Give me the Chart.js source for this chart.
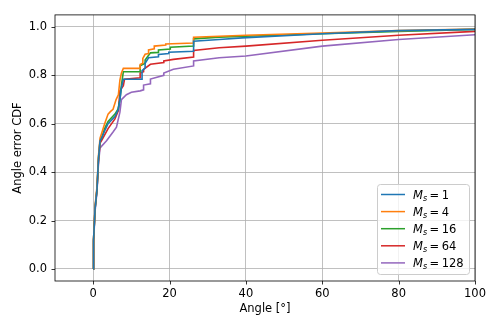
<!DOCTYPE html>
<html>
<head>
<meta charset="utf-8">
<script src="https://cdn.jsdelivr.net/npm/chart.js@4"></script>
<style>
  html, body { margin: 0; padding: 0; background: #fff; }
</style>
</head>
<body>
<canvas id="cdf-chart" width="498" height="332"></canvas>
<script>
// angle error CDF per number of samples M_s
const seriesNames = ['1', '4', '16', '64', '128'];
const seriesColors = ['#1f77b4', '#ff7f0e', '#2ca02c', '#d62728', '#9467bd'];

const ms1X = [0, 0.1, 0.5, 1.0, 1.4, 1.8, 2.2, 3.0, 3.9, 5.7, 6.6, 7.0, 7.4, 7.9, 12.8, 12.8, 13.6, 13.6, 14.5, 17.1, 17.1, 19.8, 19.8, 26.3, 26.3, 33, 39, 60, 80, 100];
const ms1Y = [0, 0.12, 0.25, 0.33, 0.46, 0.53, 0.54, 0.57, 0.60, 0.63, 0.66, 0.70, 0.75, 0.784, 0.784, 0.82, 0.83, 0.85, 0.873, 0.877, 0.886, 0.89, 0.896, 0.90, 0.941, 0.948, 0.955, 0.972, 0.985, 0.99];

const ms4X = [0, 0.1, 0.5, 1.0, 1.4, 1.8, 2.2, 3.0, 3.9, 4.5, 5.2, 6.0, 6.6, 7.0, 7.4, 7.9, 12.3, 12.3, 13.0, 13.0, 13.6, 14.5, 14.5, 16.0, 16.0, 19.0, 19.0, 26.3, 26.3, 33, 40, 60, 80, 100];
const ms4Y = [0, 0.12, 0.26, 0.34, 0.47, 0.54, 0.56, 0.60, 0.64, 0.65, 0.66, 0.70, 0.72, 0.78, 0.81, 0.829, 0.829, 0.845, 0.85, 0.87, 0.887, 0.89, 0.905, 0.91, 0.921, 0.925, 0.930, 0.934, 0.958, 0.962, 0.966, 0.975, 0.985, 0.992];

const ms16X = [0, 0.1, 0.5, 1.0, 1.4, 1.8, 2.2, 3.0, 3.9, 5.7, 6.5, 7.0, 7.4, 7.9, 12.3, 12.3, 13.6, 13.6, 15.0, 17.1, 17.1, 20.2, 20.2, 26.3, 26.3, 33, 40, 60, 80, 100];
const ms16Y = [0, 0.12, 0.25, 0.33, 0.46, 0.53, 0.54, 0.58, 0.61, 0.64, 0.66, 0.70, 0.76, 0.815, 0.815, 0.84, 0.85, 0.864, 0.893, 0.895, 0.905, 0.909, 0.916, 0.921, 0.951, 0.958, 0.962, 0.972, 0.982, 0.99];

const ms64X = [0, 0.1, 0.5, 1.0, 1.4, 1.8, 2.2, 3.9, 5.7, 6.6, 7.0, 7.9, 8.2, 12.3, 12.3, 13.2, 13.2, 15.0, 18.5, 18.5, 21.0, 26.3, 26.3, 33, 40, 60, 80, 100];
const ms64Y = [0, 0.12, 0.25, 0.33, 0.45, 0.52, 0.53, 0.58, 0.62, 0.655, 0.736, 0.757, 0.784, 0.79, 0.81, 0.815, 0.825, 0.846, 0.853, 0.86, 0.866, 0.876, 0.903, 0.914, 0.921, 0.945, 0.966, 0.982];

const ms128X = [0, 0.1, 0.5, 1.0, 1.4, 1.8, 3.5, 5.2, 6.1, 7.0, 7.4, 8.7, 10.0, 12.3, 13.2, 13.2, 15.0, 15.0, 18.5, 18.5, 21.0, 26.3, 26.3, 33, 40, 60, 80, 100];
const ms128Y = [0, 0.11, 0.24, 0.32, 0.44, 0.50, 0.53, 0.566, 0.586, 0.648, 0.70, 0.72, 0.73, 0.736, 0.74, 0.76, 0.765, 0.785, 0.80, 0.81, 0.825, 0.839, 0.86, 0.873, 0.88, 0.921, 0.948, 0.968];

const xTicks = [0, 20, 40, 60, 80, 100];
const yTicks = [0, 0.2, 0.4, 0.6, 0.8, 1.0];

const allX = [ms1X, ms4X, ms16X, ms64X, ms128X];
const allY = [ms1Y, ms4Y, ms16Y, ms64Y, ms128Y];

const FONT = 'DejaVu Sans';
const FSIZE = 11.5;

function toPoints(xs, ys) {
    return xs.map((x, i) => ({ x: x, y: ys[i] }));
}

// black box + outward tick marks like matplotlib
const frame = {
    id: 'frame',
    afterDatasetsDraw(chart) {
        const ctx = chart.ctx;
        const a = chart.chartArea;
        ctx.save();
        ctx.strokeStyle = '#000';
        ctx.lineWidth = 0.8;
        ctx.strokeRect(a.left, a.top, a.right - a.left, a.bottom - a.top);
        ctx.beginPath();
        xTicks.forEach(v => {
            const px = Math.round(chart.scales.x.getPixelForValue(v)) + 0.5;
            ctx.moveTo(px, a.bottom);
            ctx.lineTo(px, a.bottom + 3.5);
        });
        yTicks.forEach(v => {
            const py = Math.round(chart.scales.y.getPixelForValue(v)) + 0.5;
            ctx.moveTo(a.left, py);
            ctx.lineTo(a.left - 3.5, py);
        });
        ctx.stroke();
        ctx.restore();
    }
};

// legend with M_s subscript
const mplLegend = {
    id: 'mplLegend',
    afterDraw(chart) {
        const ctx = chart.ctx;
        const a = chart.chartArea;
        const w = 92, h = 90;
        const bx = a.right - 6 - w;
        const by = a.bottom - 7 - h;
        ctx.save();
        ctx.beginPath();
        ctx.roundRect(bx + 0.5, by + 0.5, w, h, 3);
        ctx.fillStyle = 'rgba(255,255,255,0.8)';
        ctx.fill();
        ctx.strokeStyle = '#cccccc';
        ctx.lineWidth = 1;
        ctx.stroke();

        chart.data.datasets.forEach((ds, i) => {
            const cy = by + 10.5 + i * 17.1;
            ctx.beginPath();
            ctx.strokeStyle = ds.borderColor;
            ctx.lineWidth = 1.5;
            ctx.moveTo(bx + 4, cy);
            ctx.lineTo(bx + 28, cy);
            ctx.stroke();

            ctx.fillStyle = '#000';
            ctx.textBaseline = 'alphabetic';
            let tx = bx + 36;
            const base = cy + 4.5;
            ctx.font = 'italic ' + FSIZE + 'px "' + FONT + '"';
            ctx.fillText('M', tx, base);
            tx += ctx.measureText('M').width;
            ctx.font = 'italic 8px "' + FONT + '"';
            ctx.fillText('s', tx, base + 2);
            tx += ctx.measureText('s').width + 2.5;
            ctx.font = FSIZE + 'px "' + FONT + '"';
            ctx.fillText('=', tx, base);
            tx += ctx.measureText('=').width + 2.5;
            ctx.fillText(seriesNames[i], tx, base);
        });
        ctx.restore();
    }
};

new Chart(document.getElementById('cdf-chart'), {
    type: 'line',
    data: {
        datasets: seriesNames.map((name, i) => ({
            label: 'M_s = ' + name,
            data: toPoints(allX[i], allY[i]),
            borderColor: seriesColors[i],
            backgroundColor: seriesColors[i],
            borderWidth: 1.6,
            pointRadius: 0,
            tension: 0,
            fill: false
        }))
    },
    options: {
        responsive: false,
        animation: false,
        layout: { padding: { top: 12, right: 23, left: 0, bottom: 0 } },
        plugins: {
            legend: { display: false },
            tooltip: { enabled: false }
        },
        scales: {
            x: {
                type: 'linear',
                min: -10,
                max: 100,
                afterBuildTicks: s => { s.ticks = xTicks.map(v => ({ value: v })); },
                afterFit: s => { s.height = 51; },
                border: { display: false },
                grid: { color: '#b0b0b0', lineWidth: 0.8, drawTicks: false },
                ticks: {
                    color: '#000',
                    padding: 6,
                    maxRotation: 0,
                    font: { family: FONT, size: FSIZE },
                    callback: v => String(v)
                },
                title: {
                    display: true,
                    text: 'Angle [°]',
                    color: '#000',
                    font: { family: FONT, size: FSIZE },
                    padding: { top: 0, bottom: 16 }
                }
            },
            y: {
                type: 'linear',
                min: -0.05,
                max: 1.05,
                afterBuildTicks: s => { s.ticks = yTicks.map(v => ({ value: v })); },
                afterFit: s => { s.width = 55; },
                border: { display: false },
                grid: { color: '#b0b0b0', lineWidth: 0.8, drawTicks: false },
                ticks: {
                    color: '#000',
                    padding: 8,
                    font: { family: FONT, size: FSIZE },
                    callback: v => v.toFixed(1)
                },
                title: {
                    display: true,
                    text: 'Angle error CDF',
                    color: '#000',
                    font: { family: FONT, size: FSIZE },
                    padding: { top: 11, bottom: 0 }
                }
            }
        }
    },
    plugins: [frame, mplLegend]
});
</script>
</body>
</html>
